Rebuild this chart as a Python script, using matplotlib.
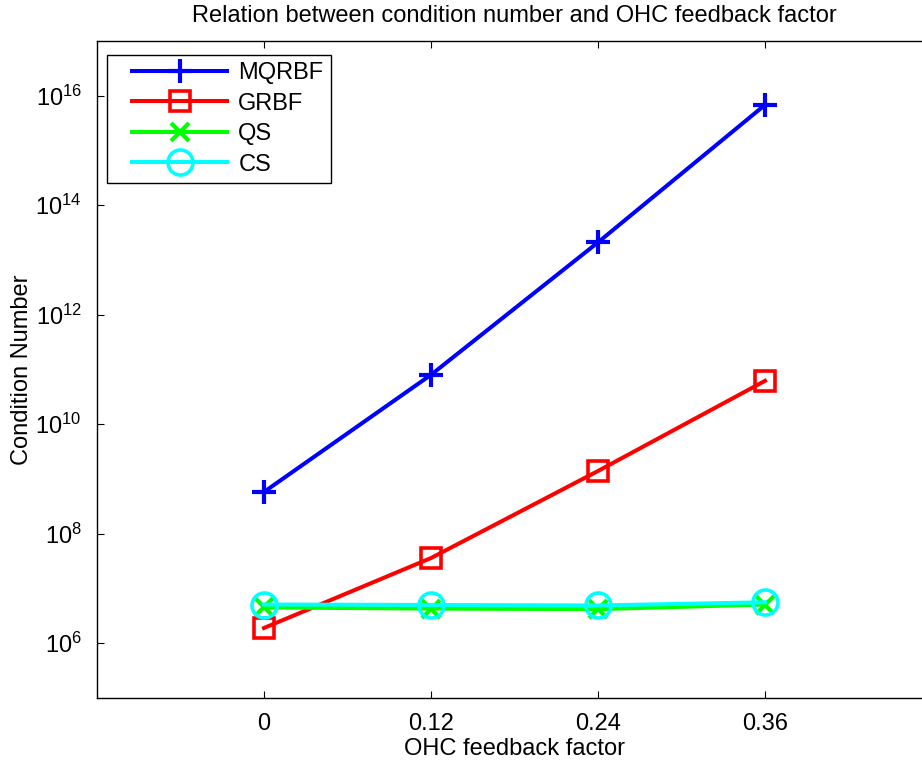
import matplotlib
matplotlib.use("Agg")
import matplotlib.pyplot as plt
from matplotlib.legend_handler import HandlerLine2D

plt.rcParams['font.family'] = ['Liberation Sans', 'DejaVu Sans']
plt.rcParams['mathtext.default'] = 'regular'

x_vals = [0, 0.12, 0.24, 0.36]
x_ticklabels = ['0', '0.12', '0.24', '0.36']
mqrbf = [5.8e8, 8.0e10, 2.1e13, 6.8e15]
grbf = [1.9e6, 3.6e7, 1.4e9, 6.2e10]
qs = [4.5e6, 4.3e6, 4.2e6, 5.1e6]
cs = [5.1e6, 5.0e6, 4.9e6, 5.6e6]
series_names = ['MQRBF', 'GRBF', 'QS', 'CS']
y_tick_exps = [6, 8, 10, 12, 14, 16]

FS = 17

W, H = 922, 761
fig = plt.figure(figsize=(W / 100, H / 100), dpi=100)
left, right, top, bottom = 97, 932, 41, 698
ax = fig.add_axes([left / W, (H - bottom) / H, (right - left) / W, (bottom - top) / H])

lw = 2.9
ax.plot(x_vals, mqrbf, color=(0, 0, 1), lw=lw, marker='+', ms=17, mew=3, label=series_names[0])
ax.plot(x_vals, grbf, color=(1, 0, 0), lw=lw, marker='s', ms=14, mew=2.6, mfc='none', label=series_names[1])
ax.plot(x_vals, qs, color=(0, 1, 0), lw=lw, marker='x', ms=13, mew=3, label=series_names[2])
ax.plot(x_vals, cs, color=(0, 1, 1), lw=lw, marker='o', ms=18, mew=2.6, mfc='none', label=series_names[3])

ax.set_yscale('log')
ax.set_xlim(-0.12, 0.48)
ax.set_ylim(1e5, 1e17)
ax.set_xticks(x_vals)
ax.set_xticklabels(x_ticklabels)
ax.set_yticks([10.0 ** e for e in y_tick_exps])
ax.set_yticklabels(['$10^{%d}$' % e for e in y_tick_exps])
ax.minorticks_off()
ax.tick_params(direction='in', length=5, width=0.8, labelsize=FS, top=True, right=True)
ax.tick_params(axis='x', pad=11)
ax.tick_params(axis='y', pad=11)
for s in ax.spines.values():
    s.set_linewidth(1.0)

ax.set_title('Relation between condition number and OHC feedback factor', fontsize=FS, pad=14)
ax.set_xlabel('OHC feedback factor', fontsize=FS, labelpad=2)
ax.set_ylabel('Condition Number', fontsize=FS, labelpad=1.5)


class OffsetLine(HandlerLine2D):
    def __init__(self, offset, **kw):
        super().__init__(**kw)
        self.offset = offset

    def create_artists(self, legend, orig_handle, xdescent, ydescent, width, height, fontsize, trans):
        return super().create_artists(legend, orig_handle, xdescent - self.offset, ydescent,
                                      width - self.offset, height, fontsize, trans)


handles, labels = ax.get_legend_handles_labels()
hmap = {h: OffsetLine(12.7) for h in handles}
leg = ax.legend(handles, labels, loc='upper left', bbox_to_anchor=(0.012, 0.979), fontsize=FS,
                handlelength=4.78, handletextpad=0.47, labelspacing=0.36,
                borderpad=0.31, borderaxespad=0.0, fancybox=False, framealpha=1,
                edgecolor='black', handler_map=hmap)
leg.get_frame().set_linewidth(1.0)

fig.savefig('out.png', dpi=100)
